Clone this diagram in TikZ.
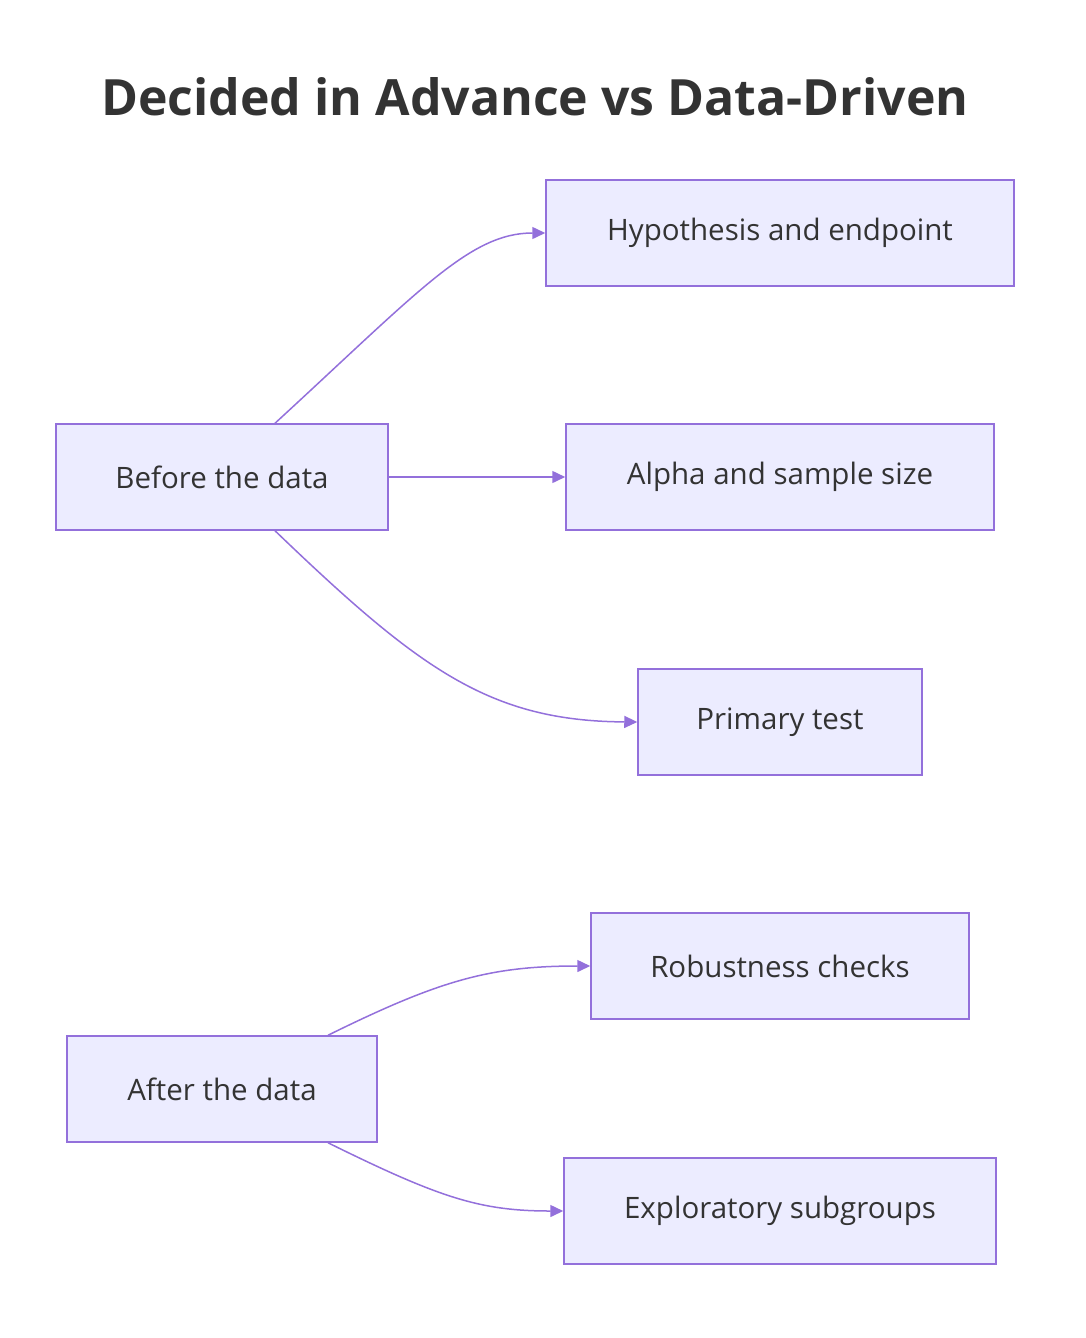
\documentclass[tikz,border=0pt]{standalone}
\usepackage{fontspec}
\setmainfont{Open Sans}
\usetikzlibrary{arrows.meta}
\definecolor{boxfill}{HTML}{ECECFF}
\definecolor{boxline}{HTML}{9370DB}
\definecolor{txt}{HTML}{333333}
\begin{document}
\begin{tikzpicture}[x=1pt,y=-1pt,
  box/.style={draw=boxline,fill=boxfill,line width=1.5pt,inner sep=0pt,text=txt,font=\fontsize{29.5}{34}\selectfont},
  arr/.style={draw=boxline,line width=1.5pt,-{Triangle[length=13pt,width=12pt]}}]
\useasboundingbox (0,0) rectangle (1086,1338);
\node[text=txt,font=\bfseries\fontsize{50}{58}\selectfont] (title) at (535,97) {Decided in Advance vs Data-Driven};
\node[box,minimum width=468pt,minimum height=106pt] (hyp) at (780,233) {Hypothesis and endpoint};
\node[box,minimum width=332pt,minimum height=106pt] (before) at (222,477) {Before the data};
\node[box,minimum width=428pt,minimum height=106pt] (alpha) at (780,477) {Alpha and sample size};
\node[box,minimum width=284pt,minimum height=106pt] (prim) at (780,722) {Primary test};
\node[box,minimum width=378pt,minimum height=106pt] (rob) at (780,966) {Robustness checks};
\node[box,minimum width=310pt,minimum height=106pt] (after) at (222,1089) {After the data};
\node[box,minimum width=432pt,minimum height=106pt] (expl) at (780,1211) {Exploratory subgroups};
\draw[arr] ([xshift=53pt]before.north) .. controls (420,290) and (470,233) .. (hyp.west);
\draw[arr] (before.east) -- (alpha.west);
\draw[arr] ([xshift=53pt]before.south) .. controls (420,670) and (490,721) .. (prim.west);
\draw[arr] ([xshift=106pt]after.north) .. controls (440,980) and (490,966) .. (rob.west);
\draw[arr] ([xshift=106pt]after.south) .. controls (440,1198) and (480,1211) .. (expl.west);
\end{tikzpicture}
\end{document}
